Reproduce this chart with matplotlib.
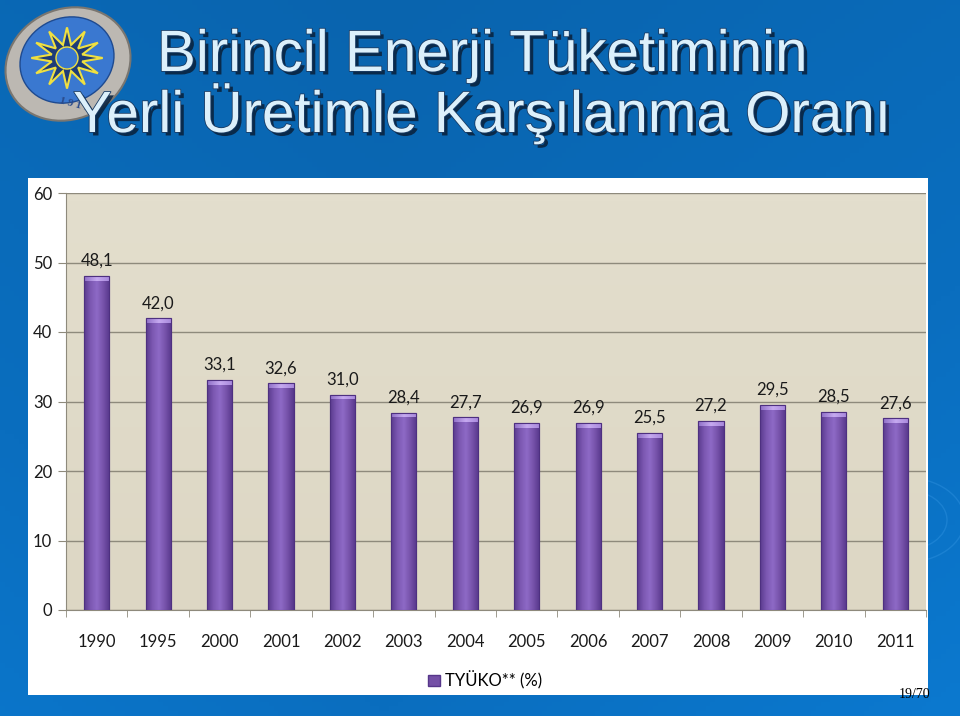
import numpy as np
import matplotlib.pyplot as plt
import matplotlib.patheffects as pe
from matplotlib.patches import Rectangle, Ellipse, Polygon, Circle
from matplotlib.colors import LinearSegmentedColormap

# Data
years = ['1990', '1995', '2000', '2001', '2002', '2003', '2004',
         '2005', '2006', '2007', '2008', '2009', '2010', '2011']
ratio = [48.1, 42.0, 33.1, 32.6, 31.0, 28.4, 27.7,
         26.9, 26.9, 25.5, 27.2, 29.5, 28.5, 27.6]
series_name = 'TYÜKO** (%)'
title_1 = 'Birincil Enerji Tüketiminin'
title_2 = 'Yerli Üretimle Karşılanma Oranı'
page_no = '19/70'

W, H = 960, 716
fig = plt.figure(figsize=(9.6, 7.16), dpi=100)

# Slide background (pixel coordinates)
bg = fig.add_axes([0, 0, 1, 1], zorder=-10)
bg.set_xlim(0, W)
bg.set_ylim(H, 0)
bg.axis('off')
gx = np.linspace(0, 1, 200)
gy = np.linspace(0, 1, 150)
GX, GY = np.meshgrid(gx, gy)
blue_map = LinearSegmentedColormap.from_list('slide', ['#0964ae', '#0a6ebf', '#0c80da'])
bg.imshow(0.5 * GY + 0.5 * np.abs(GX - 0.4), cmap=blue_map, extent=[0, W, H, 0],
          aspect='auto', vmin=0, vmax=1)
# faint swirls
for r in [60, 85]:
    bg.add_patch(Ellipse((905, 520), r * 1.4, r, fill=False, ec='#3a9ae6', lw=1, alpha=0.35))
# white chart panel
bg.add_patch(Rectangle((28, 178), 900, 517, fc='white', ec='none'))

# Logo
bg.add_patch(Ellipse((68, 64), 128, 110, angle=-25, fc='#bcb8b2', ec='#7a7670', lw=1.5))
bg.add_patch(Ellipse((67, 60), 96, 84, angle=-25, fc='#3a78d0', ec='#1e4a90', lw=1))
ang = np.linspace(0, 2 * np.pi, 25)[:-1]
rad = np.where(np.arange(24) % 2 == 0, 34, 15)
star = np.column_stack([67 + rad * np.cos(ang) * 1.05, 58 + rad * np.sin(ang) * 0.9])
bg.add_patch(Polygon(star, closed=True, fc='#1e3c78', ec='#f0e040', lw=1.5))
bg.add_patch(Circle((67, 58), 11, fc='#3a78d0', ec='#f0e040', lw=1))
bg.text(74, 104, '1 9 1 1', fontsize=8, ha='center', va='center', color='#2a4a8a',
        family='Liberation Serif', fontweight='bold', rotation=-15)

# Title
shadow = [pe.withSimplePatchShadow(offset=(2.5, -2.5), shadow_rgbFace='#0a2440', alpha=0.9),
          pe.withStroke(linewidth=1.2, foreground='#1a3c64')]
for txt, y in [(title_1, 56), (title_2, 114)]:
    t = bg.text(482, y, txt, fontsize=42, ha='center', va='center', color='#dcf0fb',
                family='Liberation Sans')
    t.set_path_effects(shadow)

# Page number
bg.text(915, 694, page_no, fontsize=10, ha='center', va='center', color='black',
        family='Liberation Serif')

# Chart
ax = fig.add_axes([66 / W, 1 - 610 / H, 860 / W, 417 / H])
ax.set_xlim(-0.5, len(years) - 0.5)
ax.set_ylim(0, 60)
plot_map = LinearSegmentedColormap.from_list('plot', ['#ddd7c4', '#e3decd'])
ax.imshow(np.linspace(0, 1, 50).reshape(-1, 1), cmap=plot_map, extent=[-0.5, len(years) - 0.5, 0, 60],
          aspect='auto', origin='lower', zorder=0)

ax.set_yticks(np.arange(0, 61, 10))
ax.grid(axis='y', color='#8e8a7c', lw=1, zorder=1)
ax.set_axisbelow(True)

x = np.arange(len(years))
bars = ax.bar(x, ratio, width=0.41, color='#7450a6', edgecolor='#56368a', lw=0.8, zorder=2)

bar_map = LinearSegmentedColormap.from_list(
    'bar', ['#5a3b8e', '#7c58b2', '#8e6ac6', '#7652aa', '#56378b'])
cap_map = LinearSegmentedColormap.from_list('cap', ['#9070c8', '#c6aaf0', '#a888dc'])
for b in bars:
    x0, w, h = b.get_x(), b.get_width(), b.get_height()
    img = np.tile(np.linspace(0, 1, 60), (300, 1))
    im = ax.imshow(img, cmap=bar_map, extent=[x0, x0 + w, 0, h], aspect='auto',
                   origin='lower', zorder=3)
    im.set_clip_path(b)
    cap = Rectangle((x0, h - 0.7), w, 0.7, transform=ax.transData)
    im2 = ax.imshow(np.tile(np.linspace(0, 1, 30), (2, 1)), cmap=cap_map,
                    extent=[x0, x0 + w, h - 0.7, h], aspect='auto', zorder=4)
    im2.set_clip_path(cap)
    ax.add_patch(Rectangle((x0, 0), w, h, fill=False, ec='#4e3080', lw=0.8, zorder=5))
    ax.annotate(f'{h:.1f}'.replace('.', ','), (x0 + w / 2, h), xytext=(0, 5),
                textcoords='offset points', ha='center', va='bottom', fontsize=12,
                color='#1a1a1a', family='Lato')

ax.set_xticks(x)
ax.set_xticklabels(years, family='Lato', fontsize=12, color='#1a1a1a')
ax.set_xticks(np.arange(-0.5, len(years), 1), minor=True)
ax.tick_params(axis='x', which='major', length=0, pad=17)
ax.tick_params(axis='x', which='minor', length=5, color='#8e8a7c')
ax.tick_params(axis='y', length=6, color='#8e8a7c', labelsize=12, labelcolor='#1a1a1a', pad=4)
for lab in ax.get_yticklabels():
    lab.set_family('Lato')
for s in ['top', 'right']:
    ax.spines[s].set_visible(False)
for s in ['left', 'bottom']:
    ax.spines[s].set_color('#8e8a7c')

# Legend
fig.legend([Rectangle((0, 0), 1, 1, fc='#7450a6', ec='#56368a')], [series_name],
           loc='center', bbox_to_anchor=(485 / W, 1 - 680 / H), frameon=False,
           prop={'family': 'Lato', 'size': 12}, handlelength=0.7, handleheight=0.7,
           handletextpad=0.3)

fig.savefig('out.png', dpi=100)
